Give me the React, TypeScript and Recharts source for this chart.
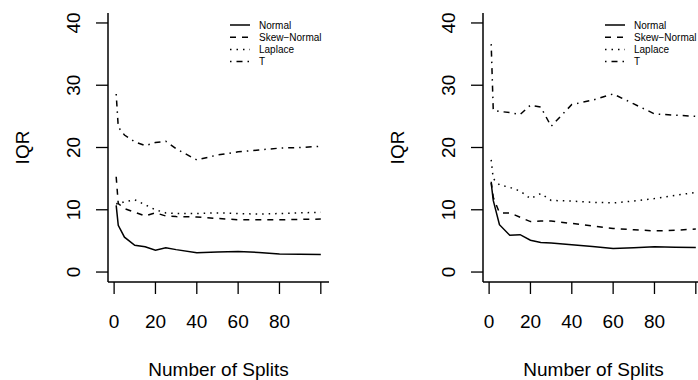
import { LineChart, Line, XAxis, YAxis, Legend } from "recharts";

const splits = [1, 2, 5, 10, 15, 20, 25, 30, 40, 50, 60, 70, 80, 90, 100];

// left panel
const leftNormal = [10.7, 7.5, 5.6, 4.3, 4.05, 3.5, 3.9, 3.6, 3.1, 3.2, 3.3, 3.15, 2.9, 2.85, 2.8];
const leftSkew = [15.3, 11.0, 10.2, 9.6, 9.0, 9.5, 9.0, 8.9, 8.85, 8.6, 8.4, 8.4, 8.4, 8.45, 8.5];
const leftLaplace = [11.0, 10.9, 11.3, 11.6, 10.8, 10.0, 9.5, 9.4, 9.4, 9.5, 9.4, 9.3, 9.4, 9.5, 9.6];
const leftT = [28.6, 23.3, 22.0, 20.9, 20.3, 20.8, 21.0, 19.8, 18.0, 18.8, 19.3, 19.6, 19.9, 20.0, 20.2];

// right panel
const rightNormal = [14.3, 11.5, 7.6, 5.9, 6.0, 5.1, 4.75, 4.65, 4.4, 4.1, 3.8, 3.9, 4.05, 4.0, 3.95];
const rightSkew = [14.5, 12.0, 9.5, 9.5, 8.8, 8.1, 8.2, 8.2, 7.8, 7.4, 7.0, 6.8, 6.6, 6.7, 6.9];
const rightLaplace = [18.0, 15.0, 14.0, 13.6, 13.0, 11.8, 12.6, 11.5, 11.4, 11.2, 11.1, 11.4, 11.8, 12.3, 12.8];
const rightT = [36.6, 26.0, 25.8, 25.6, 25.3, 26.8, 26.5, 23.4, 26.9, 27.6, 28.6, 27.0, 25.4, 25.2, 25.0];

const X_TICKS = [0, 20, 40, 60, 80, 100];
const Y_TICKS = [0, 10, 20, 30, 40];
// R default 4% axis expansion around 1..100 and 0..40
const X_DOMAIN = [-2.96, 103.96];
const Y_DOMAIN = [-1.6, 41.6];

const FONT = '"Liberation Sans", Arial, Helvetica, sans-serif';

const SERIES = [
  { key: "normal", name: "Normal", dash: undefined },
  { key: "skew", name: "Skew\u2212Normal", dash: "6 6" },
  { key: "laplace", name: "Laplace", dash: "1.5 5" },
  { key: "t", name: "T", dash: "1.5 5 6 5" },
];

type Row = { n: number; normal: number; skew: number; laplace: number; t: number };

function buildRows(normal: number[], skew: number[], laplace: number[], t: number[]): Row[] {
  return splits.map((n, i) => ({
    n,
    normal: normal[i],
    skew: skew[i],
    laplace: laplace[i],
    t: t[i],
  }));
}

const leftRows = buildRows(leftNormal, leftSkew, leftLaplace, leftT);
const rightRows = buildRows(rightNormal, rightSkew, rightLaplace, rightT);

const XTick = (props: any) => {
  const { x, y, payload } = props;
  if (payload.value === 100) return <g />;
  return (
    <text x={x} y={y + 32} textAnchor="middle" fontSize={19} fontFamily={FONT} fill="#000">
      {payload.value}
    </text>
  );
};

const YTick = (props: any) => {
  const { x, y, payload } = props;
  const tx = x - 14;
  return (
    <text
      x={tx}
      y={y}
      transform={`rotate(-90, ${tx}, ${y})`}
      textAnchor="middle"
      fontSize={19}
      fontFamily={FONT}
      fill="#000"
    >
      {payload.value}
    </text>
  );
};

const renderLegend = () => (
  <svg width={130} height={56} style={{ display: "block" }}>
    {SERIES.map((s, i) => {
      const cy = 8 + i * 12.2;
      return (
        <g key={s.key}>
          <line x1={4} x2={24} y1={cy} y2={cy} stroke="#000" strokeWidth={1.5} strokeDasharray={s.dash} />
          <text x={33} y={cy} dominantBaseline="central" fontSize={10} fontFamily={FONT} fill="#000">
            {s.name}
          </text>
        </g>
      );
    })}
  </svg>
);

function Panel({ data }: { data: Row[] }) {
  return (
    <LineChart width={375} height={380} data={data} margin={{ top: 13, right: 46, bottom: 0, left: 0 }}>
      <XAxis
        xAxisId="b"
        dataKey="n"
        type="number"
        domain={X_DOMAIN}
        ticks={X_TICKS}
        allowDataOverflow
        height={98}
        tickSize={12}
        tick={<XTick />}
        axisLine={{ stroke: "#000", strokeWidth: 1.5 }}
        tickLine={{ stroke: "#000", strokeWidth: 1.3 }}
        label={({ viewBox }: any) => (
          <text
            x={viewBox.x + viewBox.width / 2}
            y={376}
            textAnchor="middle"
            fontSize={19}
            fontFamily={FONT}
            fill="#000"
          >
            Number of Splits
          </text>
        )}
      />
      <XAxis
        xAxisId="top"
        orientation="top"
        dataKey="n"
        type="number"
        domain={X_DOMAIN}
        allowDataOverflow
        height={0}
        tick={false}
        tickLine={false}
        axisLine={{ stroke: "#000", strokeWidth: 1.5 }}
      />
      <YAxis
        yAxisId="l"
        type="number"
        domain={Y_DOMAIN}
        ticks={Y_TICKS}
        allowDataOverflow
        width={108}
        tickSize={12}
        tick={<YTick />}
        axisLine={{ stroke: "#000", strokeWidth: 1.5 }}
        tickLine={{ stroke: "#000", strokeWidth: 1.3 }}
        label={({ viewBox }: any) => {
          const cx = 29;
          const cy = viewBox.y + viewBox.height / 2;
          return (
            <text
              x={cx}
              y={cy}
              transform={`rotate(-90, ${cx}, ${cy})`}
              textAnchor="middle"
              fontSize={19}
              fontFamily={FONT}
              fill="#000"
            >
              IQR
            </text>
          );
        }}
      />
      <YAxis
        yAxisId="r"
        orientation="right"
        type="number"
        domain={Y_DOMAIN}
        allowDataOverflow
        width={0}
        tick={false}
        tickLine={false}
        axisLine={{ stroke: "#000", strokeWidth: 1.5 }}
      />
      <Legend
        layout="vertical"
        align="center"
        verticalAlign="middle"
        content={renderLegend}
        wrapperStyle={{ left: 226, top: 17, width: 130, height: 56 }}
      />
      {SERIES.map((s) => (
        <Line
          key={s.key}
          xAxisId="b"
          yAxisId="l"
          type="linear"
          dataKey={s.key}
          name={s.name}
          stroke="#000"
          strokeWidth={1.5}
          strokeDasharray={s.dash}
          dot={false}
          activeDot={false}
          isAnimationActive={false}
        />
      ))}
    </LineChart>
  );
}

export default function App() {
  return (
    <div
      style={{
        position: "absolute",
        left: 0,
        top: 0,
        width: 698,
        height: 380,
        overflow: "hidden",
        background: "#fff",
      }}
    >
      <div style={{ position: "absolute", left: 0, top: 0 }}>
        <Panel data={leftRows} />
      </div>
      <div style={{ position: "absolute", left: 375, top: 0 }}>
        <Panel data={rightRows} />
      </div>
    </div>
  );
}
